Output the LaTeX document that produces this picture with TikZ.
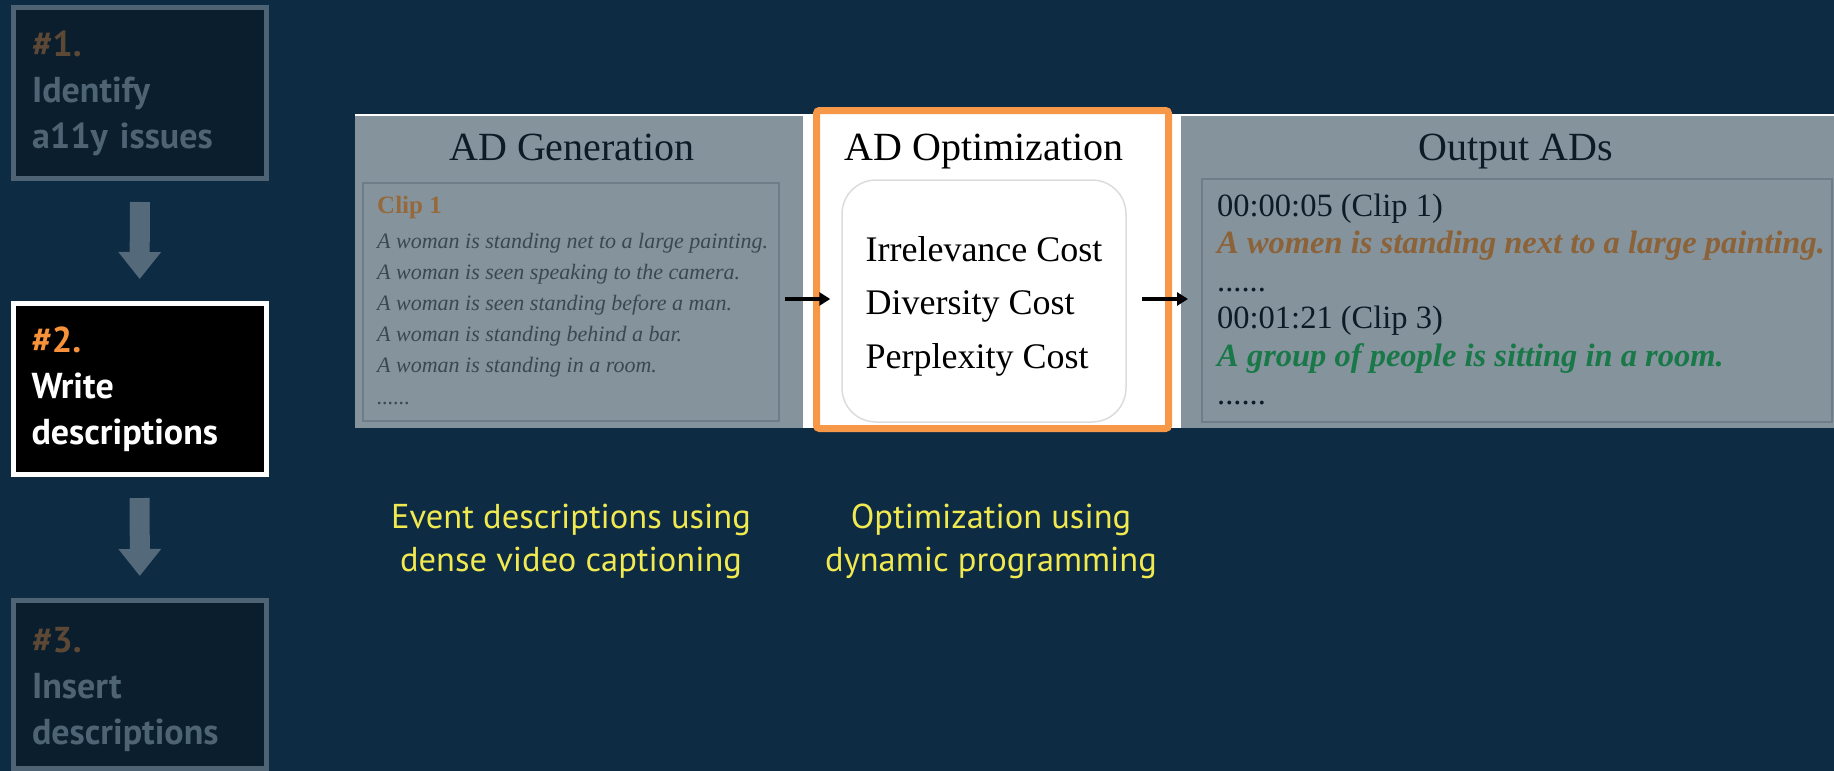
\documentclass[tikz,border=0pt]{standalone}
\usepackage{fontspec}
\setmainfont{Liberation Serif}
\newfontfamily\slidefont{PT Sans}
\usetikzlibrary{arrows.meta,positioning}
\definecolor{bgnavy}{RGB}{14,43,68}
\definecolor{dimfill}{RGB}{10,30,45}
\definecolor{dimline}{RGB}{78,99,115}
\definecolor{dimnum}{RGB}{92,72,52}
\definecolor{hinum}{RGB}{247,146,58}
\definecolor{arrowgray}{RGB}{84,105,122}
\definecolor{panelgray}{RGB}{132,147,156}
\definecolor{innerline}{RGB}{110,125,135}
\definecolor{gentext}{RGB}{58,72,82}
\definecolor{clipbrown}{RGB}{150,105,60}
\definecolor{titleink}{RGB}{13,27,38}
\definecolor{outbrown}{RGB}{140,98,57}
\definecolor{outgreen}{RGB}{24,120,72}
\definecolor{optorange}{RGB}{247,152,72}
\definecolor{costline}{RGB}{220,220,220}
\definecolor{capyellow}{RGB}{240,233,80}
\newcommand\sixdots{......}

\begin{document}
\begin{tikzpicture}[x=1pt,y=-1pt,
  phase/.style={draw=dimline,fill=dimfill,line width=5pt,minimum width=253pt,minimum height=171pt,
    text width=216pt,inner xsep=18.5pt,align=left,text=dimline,font=\slidefont\bfseries\fontsize{36}{46}\selectfont},
  phaseon/.style={phase,draw=white,fill=black,text=white},
  stepflow/.style={line width=20pt,arrowgray,-{Triangle[width=41pt,length=27pt]},shorten <=21pt,shorten >=22pt},
  adflow/.style={line width=4pt,black,-{Triangle[width=13pt,length=11pt]}},
  ptitle/.style={anchor=base,inner sep=0pt,font=\fontsize{40}{46}\selectfont},
  genline/.style={anchor=base west,inner sep=0pt,text=gentext,font=\itshape\fontsize{22}{26}\selectfont},
  outline/.style={anchor=base west,inner sep=0pt,font=\fontsize{32.5}{38}\selectfont},
  caption/.style={anchor=base,inner sep=0pt,align=center,text=capyellow,font=\slidefont\fontsize{34.5}{43}\selectfont}]
\useasboundingbox (0,0) rectangle (1834,771);
\fill[bgnavy] (0,0) rectangle (1834,771);
% workflow steps on the left
\node[phase] (s1) at (140,93) {\textcolor{dimnum}{\#1.}\\Identify\\a11y issues};
\node[phaseon] (s2) at (139.5,389) {\textcolor{hinum}{\#2.}\\Write\\descriptions};
\node[phase,minimum height=168pt] (s3) at (140,684.5) {\rule{0pt}{35pt}\textcolor{dimnum}{\#3.}\\Insert\\descriptions};
\draw[stepflow] (s1) -- (s2);
\draw[stepflow] (s2) -- (s3);
% pipeline panels
\fill[white] (355,114) rectangle (1834,428);
\fill[panelgray] (355,115.5) rectangle (803,428);
\fill[panelgray] (1181,115.5) rectangle (1834,428);
\draw[optorange,line width=7pt,rounded corners=3pt] (816.5,110.5) rectangle (1168.5,428.5);
\node[ptitle,text=titleink] (tgen) at (572,160) {AD Generation};
\node[ptitle,text=black] (topt) at (984,160) {AD Optimization};
\node[ptitle,text=titleink] (tout) at (1516,160) {Output ADs};
\node[draw=innerline,line width=2pt,minimum width=416pt,minimum height=238pt] (genbox) at (571,302) {};
\node[draw=costline,line width=1.5pt,fill=white,rounded corners=34pt,minimum width=284pt,minimum height=242pt] (costbox) at (984,301) {};
\node[align=left,inner sep=0pt,font=\fontsize{36}{53.5}\selectfont] (costs) at ([yshift=-5pt]costbox.center)
  {Irrelevance Cost\\Diversity Cost\\Perplexity Cost};
\node[draw=innerline,line width=2pt,minimum width=630pt,minimum height=243pt] (outbox) at (1517,300.5) {};
% generated captions
\node[anchor=base west,inner sep=0pt,text=clipbrown,font=\bfseries\fontsize{25}{30}\selectfont] (clip) at (377,213) {Clip 1};
\foreach \t [count=\i] in {A woman is standing net to a large painting.,A woman is seen speaking to the camera.,
  A woman is seen standing before a man.,A woman is standing behind a bar.,A woman is standing in a room.,\sixdots}
  \node[genline] (g\i) at (377,{248+31.2*(\i-1)}) {\t};
% selected descriptions
\foreach \t/\c/\f [count=\i] in {00:00:05 (Clip 1)/titleink/\upshape,
  A women is standing next to a large painting./outbrown/\bfseries\itshape,
  \sixdots/titleink/\upshape, 00:01:21 (Clip 3)/titleink/\upshape,
  A group of people is sitting in a room./outgreen/\bfseries\itshape, \sixdots/titleink/\upshape}
  \node[outline,text=\c] (o\i) at (1217,{216+37.6*(\i-1)}) {\f\t};
\draw[adflow,shorten <=5pt,shorten >=11pt] ([yshift=3pt]genbox.east) -- ([yshift=2pt]costbox.west);
\draw[adflow,shorten <=15pt,shorten >=13pt] ([yshift=2pt]costbox.east) -- ([yshift=1.5pt]outbox.west);
% notes under the panels
\node[caption] (cgen) at (571,571) {Event descriptions using\\dense video captioning};
\node[caption] (copt) at (991,571) {Optimization using\\dynamic programming};
\end{tikzpicture}
\end{document}
